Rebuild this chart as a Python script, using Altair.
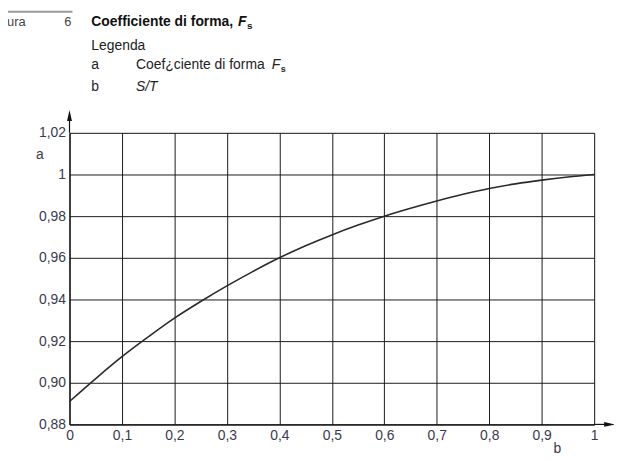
import altair as alt
import pandas as pd

# Data
s_over_t = [0.0, 0.05, 0.1, 0.15, 0.2, 0.25, 0.3, 0.35, 0.4, 0.45, 0.5,
            0.55, 0.6, 0.65, 0.7, 0.75, 0.8, 0.85, 0.9, 0.95, 1.0]
fs_values = [0.891, 0.902, 0.9125, 0.922, 0.931, 0.939, 0.9465, 0.9535, 0.960, 0.9658, 0.971,
             0.9757, 0.980, 0.9838, 0.9873, 0.9905, 0.9933, 0.9955, 0.9973, 0.9988, 1.0]
x_ticks = [0.0, 0.1, 0.2, 0.3, 0.4, 0.5, 0.6, 0.7, 0.8, 0.9, 1.0]
y_ticks = [0.88, 0.90, 0.92, 0.94, 0.96, 0.98, 1.00, 1.02]

df = pd.DataFrame({"st": s_over_t, "fs": fs_values})
one = pd.DataFrame({"k": [0]})

LABEL_COLOR = "#3a3a4a"
FONT = "Liberation Sans"

line = alt.Chart(df).mark_line(color="#2a2a2a", strokeWidth=1.6, interpolate="monotone").encode(
    x=alt.X("st:Q",
            scale=alt.Scale(domain=[0, 1], nice=False, zero=False),
            axis=alt.Axis(values=x_ticks, title=None,
                          labelExpr="replace(format(datum.value, '.1~f'), '.', ',')",
                          grid=True, gridColor="#1a1a1a", gridWidth=1, gridOpacity=1,
                          ticks=False, domain=True, domainColor="#111", domainWidth=1.2,
                          labelFont=FONT, labelFontSize=14, labelColor=LABEL_COLOR,
                          labelPadding=4, labelOverlap=False, labelFlush=False, labelBound=False)),
    y=alt.Y("fs:Q",
            scale=alt.Scale(domain=[0.88, 1.02], nice=False, zero=False),
            axis=alt.Axis(values=y_ticks, title=None,
                          labelExpr="datum.value == 1 ? '1' : replace(format(datum.value, '.2f'), '.', ',')",
                          grid=True, gridColor="#1a1a1a", gridWidth=1, gridOpacity=1,
                          ticks=False, domain=True, domainColor="#111", domainWidth=1.2,
                          labelFont=FONT, labelFontSize=14, labelColor=LABEL_COLOR,
                          labelPadding=4, labelOverlap=False, labelFlush=False, labelBound=False)),
)

# axis arrows
y_ext = alt.Chart(one).mark_rule(color="#111", strokeWidth=1.2).encode(
    x=alt.value(0), y=alt.value(0), y2=alt.value(-14))
y_head = alt.Chart(one).mark_point(shape="M0,-1L0.45,1L-0.45,1Z", filled=True, size=120,
                                   color="#111", opacity=1).encode(
    x=alt.value(0), y=alt.value(-17.5))
x_ext = alt.Chart(one).mark_rule(color="#111", strokeWidth=1.2).encode(
    x=alt.value(529), x2=alt.value(542), y=alt.value(294))
x_head = alt.Chart(one).mark_point(shape="M1,0L-1,-0.45L-1,0.45Z", filled=True, size=120,
                                   color="#111", opacity=1).encode(
    x=alt.value(544.5), y=alt.value(294))

def txt(s, x, y, size=14, weight="normal", style="normal", color="#222",
        align="left", baseline="alphabetic"):
    return alt.Chart(pd.DataFrame({"t": [s]})).mark_text(
        font=FONT, fontSize=size, fontWeight=weight, fontStyle=style, color=color,
        align=align, baseline=baseline).encode(text="t:N", x=alt.value(x), y=alt.value(y))

# axis titles
a_lbl = txt("a", -30, 26, color=LABEL_COLOR, align="center")
b_lbl = txt("b", 492, 323, color=LABEL_COLOR, align="center")

# header
top_rule = alt.Chart(one).mark_rule(color="#999", strokeWidth=2).encode(
    x=alt.value(-63), x2=alt.value(3), y=alt.value(-122))
ura = txt("ura", -63, -108, size=13, color="#444")
six = txt("6", 2, -108, size=13, color="#444", align="right")
title1 = txt("Coefficiente di forma,", 22, -108, weight="bold", color="#111")
title_f = txt("F", 170, -108, weight="bold", style="italic", color="#111")
title_s = txt("s", 179, -105, size=10, weight="bold", color="#111")
legenda = txt("Legenda", 22, -84)
la = txt("a", 22, -64)
la_t = txt("Coef\u00bfciente di forma", 67, -64)
la_f = txt("F", 204, -64, style="italic")
la_s = txt("s", 213, -61, size=9, weight="bold")
lb = txt("b", 22, -42)
lb_t = txt("S/T", 67, -42, style="italic")

chart = alt.layer(
    line, y_ext, y_head, x_ext, x_head, a_lbl, b_lbl,
    top_rule, ura, six, title1, title_f, title_s, legenda, la, la_t, la_f, la_s, lb, lb_t
).properties(
    width=529, height=294,
    autosize=alt.AutoSizeParams(type="none"),
    padding={"left": 62, "top": 124, "right": 20, "bottom": 34},
).configure_view(stroke=None).configure(background="white")

chart.save("out.html", embed_options={"renderer": "svg", "actions": False})
